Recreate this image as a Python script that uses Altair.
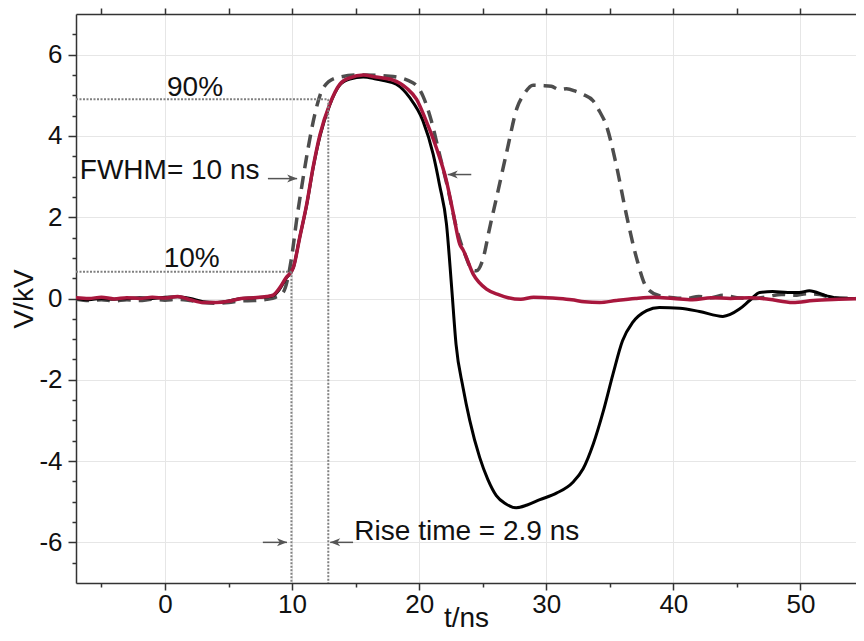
import altair as alt
import pandas as pd

# ---------------- data ----------------
t_red = [-7.0, -6.0, -5.0, -4.0, -3.0, -2.0, -1.0, 0.0, 1.0, 2.0, 3.0, 4.0, 5.0, 6.0, 7.0, 8.0,
         8.5, 9.0, 9.5, 10.1, 10.6, 11.15, 11.65, 12.2, 12.95, 13.75, 14.55, 15.6, 16.6, 17.9,
         19.0, 19.8, 20.55, 21.35, 22.15, 22.65, 23.2, 23.45, 24.25, 25.3, 26.3, 27.0, 28.0,
         29.0, 30.0, 31.0, 32.0, 33.0, 34.2, 35.5, 37.0, 38.5, 40.0, 41.5, 43.0, 44.5, 46.0,
         47.5, 49.4, 51.0, 53.0, 55.0]
v_red = [0.02, 0.0, 0.03, -0.01, 0.02, 0.0, 0.03, 0.01, 0.05, -0.03, -0.1, -0.1, -0.07, 0.0, 0.02, 0.05,
         0.08, 0.25, 0.5, 0.76, 1.5, 2.32, 3.22, 4.04, 4.77, 5.27, 5.43, 5.5, 5.45, 5.38,
         5.18, 4.9, 4.37, 3.71, 2.89, 2.15, 1.33, 1.2, 0.6, 0.23, 0.09, 0.02, -0.02,
         0.03, 0.02, 0.0, -0.03, -0.08, -0.1, -0.05, 0.0, 0.03, 0.0, -0.03, 0.02, 0.0, 0.02,
         -0.02, -0.1, -0.05, -0.02, 0.0]

t_black = [-7.0, -6.0, -5.0, -4.0, -3.0, -2.0, -1.0, 0.0, 1.0, 2.0, 3.0, 4.0, 5.0, 6.0, 7.0, 8.0,
           8.5, 9.0, 9.5, 10.1, 10.6, 11.15, 11.65, 12.2, 12.95, 13.75, 14.55, 15.6, 16.6, 17.2,
           18.2, 19.26, 20.3, 21.1, 21.6, 22.15, 22.55, 22.9, 23.45, 23.98, 24.76, 25.4, 26.07,
           26.8, 27.64, 28.5, 29.5, 30.8, 32.1, 32.9, 33.7, 34.5, 35.25, 36.0, 36.8, 37.9, 38.9,
           40.5, 42.06, 43.9, 45.2, 46.0, 46.8, 47.8, 49.0, 49.9, 50.7, 52.0, 53.1, 55.0]
v_black = [0.0, -0.03, 0.0, -0.02, 0.0, 0.02, 0.0, 0.03, 0.04, 0.0, -0.08, -0.1, -0.06, 0.0, 0.02, 0.04,
           0.07, 0.22, 0.48, 0.76, 1.5, 2.3, 3.2, 4.0, 4.75, 5.25, 5.4, 5.45, 5.4, 5.36,
           5.27, 4.94, 4.37, 3.55, 2.8, 1.83, 0.3, -1.12, -2.19, -3.0, -3.91, -4.45, -4.85,
           -5.05, -5.15, -5.08, -4.95, -4.79, -4.52, -4.19, -3.58, -2.76, -1.86, -1.04, -0.59, -0.3, -0.22,
           -0.24, -0.32, -0.44, -0.26, -0.05, 0.15, 0.17, 0.15, 0.15, 0.19, 0.07, 0.0, 0.0]

t_dash = [-7.0, -6.0, -5.0, -4.0, -3.0, -2.0, -1.0, 0.0, 1.0, 2.0, 3.0, 4.0, 5.0, 6.0, 7.0, 8.0,
          8.7, 9.3, 9.96, 10.35, 10.75, 11.27, 11.79, 12.45, 13.5, 15.33, 17.7, 19.5, 20.3,
          20.96, 21.6, 22.3, 22.93, 23.6, 24.2, 24.5, 25.0, 25.55, 26.1, 26.9, 27.7, 28.3,
          28.96, 29.7, 30.4, 31.05, 31.6, 32.3, 32.9, 33.7, 34.2, 34.7, 35.5, 36.3, 37.1,
          37.9, 38.9, 40.0, 41.0, 42.0, 43.0, 43.9, 45.0, 46.5, 47.5, 48.5, 49.5, 50.5,
          51.5, 52.5, 55.0]
v_dash = [-0.02, -0.05, -0.03, -0.06, -0.03, -0.05, -0.02, -0.04, -0.02, -0.05, -0.1, -0.12, -0.1, -0.06, -0.05, -0.02,
          0.03, 0.15, 1.0, 1.91, 2.73, 3.71, 4.53, 5.18, 5.43, 5.5, 5.47, 5.31, 4.98,
          4.37, 3.55, 2.65, 1.74, 1.09, 0.7, 0.68, 0.95, 1.74, 2.5, 3.62, 4.69, 5.05,
          5.25, 5.24, 5.22, 5.14, 5.16, 5.1, 5.02, 4.86, 4.6, 4.28, 3.3, 2.07, 1.0,
          0.27, 0.07, 0.02, 0.0, 0.05, 0.02, 0.08, 0.02, 0.0, 0.05, 0.1, 0.08, 0.12,
          0.1, 0.02, 0.0]

# dotted 10% / 90% guide lines
dot_t1 = [-7.0, 12.85, -7.0, 9.95]
dot_t2 = [12.85, 12.85, 9.95, 9.95]
dot_v1 = [4.9, 4.9, 0.66, 0.66]
dot_v2 = [4.9, -7.0, 0.66, -7.0]

# arrows
arr_t1 = [8.1, 24.1, 7.7, 14.8]
arr_t2 = [10.4, 22.25, 9.6, 13.0]
arr_v = [2.95, 3.05, -6.0, -6.0]
arr_dir = ["right", "left", "right", "left"]

# text annotations
lab_text = ["90%", "10%", "FWHM= 10 ns", "Rise time = 2.9 ns"]
lab_t = [0.16, -0.1, -6.7, 14.9]
lab_v = [4.98, 0.78, 2.93, -5.95]

# axis ticks
x_major = [0, 10, 20, 30, 40, 50]
x_minor = [-5, 5, 15, 25, 35, 45]
x_top = [-5, 0, 5, 10, 15, 20, 25, 30, 35, 40, 45, 50]
y_major = [-6, -4, -2, 0, 2, 4, 6]
y_minor = [-6.5, -5.5, -5, -4.5, -3.5, -3, -2.5, -1.5, -1, -0.5, 0.5, 1, 1.5,
           2.5, 3, 3.5, 4.5, 5, 5.5, 6.5]

# ---------------- chart ----------------
red = pd.DataFrame({"t": t_red, "v": v_red})
black = pd.DataFrame({"t": t_black, "v": v_black})
dash = pd.DataFrame({"t": t_dash, "v": v_dash})
dots = pd.DataFrame({"t1": dot_t1, "t2": dot_t2, "v1": dot_v1, "v2": dot_v2})
arrows = pd.DataFrame({"t1": arr_t1, "t2": arr_t2, "v": arr_v, "dir": arr_dir})
labels = pd.DataFrame({"t": lab_t, "v": lab_v, "label": lab_text})

FONT = "Liberation Sans"
AX = "#333333"
W, H = 780, 569
PX_PER_NS = 788 / 62.0
xs = alt.Scale(domain=[-7, -7 + W / PX_PER_NS], nice=False, zero=False)
ys = alt.Scale(domain=[-7, 7], nice=False, zero=False)

major_x = alt.Axis(orient="bottom", values=x_major, title="t/ns", grid=True,
                   gridColor="#e6e6e6", gridWidth=1, domainColor=AX, domainWidth=1.5,
                   tickColor=AX, tickWidth=1.5, tickSize=7, labelFont=FONT,
                   labelFontSize=26, labelColor="#111111", labelPadding=1,
                   labelFlush=False, labelOverlap=False, titleFont=FONT,
                   titleFontSize=28, titleFontWeight="normal", titleColor="#111111",
                   titleY=43, titleBaseline="alphabetic")
major_y = alt.Axis(orient="left", values=y_major, title="V/kV", grid=True,
                   gridColor="#e6e6e6", gridWidth=1, domainColor=AX, domainWidth=1.5,
                   tickColor=AX, tickWidth=1.5, tickSize=8, labelFont=FONT,
                   labelFontSize=26, labelColor="#111111", labelPadding=6,
                   labelExpr="'' + datum.value",
                   labelFlush=False, labelOverlap=False, titleFont=FONT,
                   titleFontSize=28, titleFontWeight="normal", titleColor="#111111",
                   titleX=-44, titleY=H / 2, titleBaseline="alphabetic")
minor_x = alt.Axis(orient="bottom", values=x_minor, title=None, labels=False, grid=False,
                   domain=False, tickColor=AX, tickWidth=1.5, tickSize=4)
minor_y = alt.Axis(orient="left", values=y_minor, title=None, labels=False, grid=False,
                   domain=False, tickColor=AX, tickWidth=1.5, tickSize=4)
top_x = alt.Axis(orient="top", values=x_top, title=None, labels=False, grid=False,
                 domain=True, domainColor=AX, domainWidth=1.5, tickColor=AX,
                 tickWidth=1.5, tickSize=6)

dash_layer = alt.Chart(dash).mark_line(
    color="#4d4d4d", strokeWidth=3.5, strokeDash=[13, 8], interpolate="monotone", clip=True
).encode(x=alt.X("t:Q", scale=xs, axis=top_x), y=alt.Y("v:Q", scale=ys, axis=None))

black_layer = alt.Chart(black).mark_line(
    color="#000000", strokeWidth=3, interpolate="monotone", clip=True
).encode(x=alt.X("t:Q", scale=xs, axis=minor_x), y=alt.Y("v:Q", scale=ys, axis=minor_y))

red_layer = alt.Chart(red).mark_line(
    color="#a8173d", strokeWidth=3.5, interpolate="monotone", clip=True
).encode(x=alt.X("t:Q", scale=xs, axis=major_x), y=alt.Y("v:Q", scale=ys, axis=major_y))

dot_layer = alt.Chart(dots).mark_rule(
    color="#808080", strokeWidth=2, strokeDash=[2, 1.5]
).encode(x=alt.X("t1:Q", scale=xs, axis=None), x2="t2:Q",
         y=alt.Y("v1:Q", scale=ys, axis=None), y2="v2:Q")

shaft_layer = alt.Chart(arrows).mark_rule(color="#555555", strokeWidth=1.5).encode(
    x=alt.X("t1:Q", scale=xs, axis=None), x2="t2:Q", y=alt.Y("v:Q", scale=ys, axis=None))

head_r = "M0,0 L-1,-0.4 L-0.72,0 L-1,0.4 Z"
head_l = "M0,0 L1,-0.4 L0.72,0 L1,0.4 Z"
head_layer = alt.Chart(arrows).mark_point(
    filled=True, color="#555555", size=400, opacity=1, strokeWidth=0
).encode(
    x=alt.X("t2:Q", scale=xs, axis=None), y=alt.Y("v:Q", scale=ys, axis=None),
    shape=alt.Shape("dir:N", scale=alt.Scale(domain=["right", "left"], range=[head_r, head_l]),
                    legend=None))

text_layer = alt.Chart(labels).mark_text(
    align="left", baseline="alphabetic", font=FONT, fontSize=28, color="#111111"
).encode(x=alt.X("t:Q", scale=xs, axis=None), y=alt.Y("v:Q", scale=ys, axis=None),
         text="label:N")

chart = alt.layer(
    dash_layer, black_layer, red_layer, dot_layer, shaft_layer, head_layer, text_layer
).resolve_axis(x="independent", y="independent").properties(
    width=W, height=H,
    autosize=alt.AutoSizeParams(type="none"),
    padding={"left": 68, "top": 6, "right": 0, "bottom": 50},
    background="white",
).configure_view(stroke=None)

chart.save("out.html", embed_options={"renderer": "svg", "actions": False})
